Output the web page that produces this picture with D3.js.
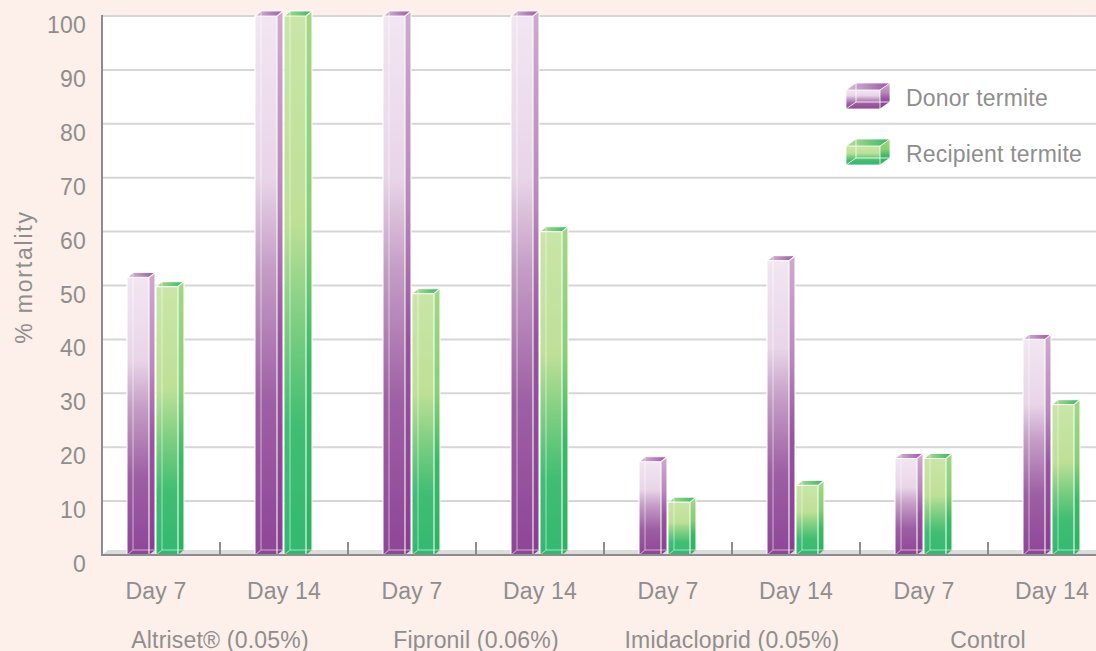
<!DOCTYPE html>
<html>
<head>
<meta charset="utf-8">
<script src="https://cdn.jsdelivr.net/npm/d3@7"></script>
<style>
  body { margin: 0; background: #fdefea; }
  svg { display: block; }
  .lbl { font-family: "Liberation Sans", Arial, sans-serif; font-size: 23px; fill: #8e8e8e; letter-spacing: 0.2px; }
</style>
</head>
<body>
<div id="chart"></div>
<script>
// chart data
var groups = ["Altriset® (0.05%)", "Fipronil (0.06%)", "Imidacloprid (0.05%)", "Control"];
var days = ["Day 7", "Day 14", "Day 7", "Day 14", "Day 7", "Day 14", "Day 7", "Day 14"];
var series = ["Donor termite", "Recipient termite"];
var donor = [51.5, 100, 100, 100, 17.3, 54.6, 17.9, 40];
var recipient = [49.8, 100, 48.5, 60, 9.8, 12.9, 17.9, 27.9];
var yTicks = [0, 10, 20, 30, 40, 50, 60, 70, 80, 90, 100];

var width = 1096, height = 651;
var plotLeft = 102, plotTop = 16, plotBottom = 555;
var dx = 6, dy = -5;   // 3d depth of the bars

var svg = d3.select("#chart").append("svg")
  .attr("width", width)
  .attr("height", height);

var defs = svg.append("defs");

function vgrad(id, stops) {
  var g = defs.append("linearGradient").attr("id", id)
    .attr("x1", 0).attr("y1", 0).attr("x2", 0).attr("y2", 1);
  stops.forEach(function(s) {
    g.append("stop").attr("offset", s[0]).attr("stop-color", s[1]);
  });
}
function hgrad(id, stops) {
  var g = defs.append("linearGradient").attr("id", id)
    .attr("x1", 0).attr("y1", 0).attr("x2", 1).attr("y2", 0);
  stops.forEach(function(s) {
    g.append("stop").attr("offset", s[0]).attr("stop-color", s[1]);
  });
}

vgrad("dFront", [[0, "#f2e6f2"], [0.3, "#e8d5e8"], [0.47, "#c49dc5"], [0.72, "#9d5fa3"], [1, "#8e4697"]]);
vgrad("dSide", [[0, "#cfa9cf"], [0.35, "#b988bb"], [0.6, "#97559e"], [1, "#873e8f"]]);
hgrad("dTop", [[0, "#d9bcd9"], [1, "#9a56a0"]]);
vgrad("rFront", [[0, "#c9e5a8"], [0.38, "#bee096"], [0.56, "#80cf83"], [0.76, "#40be73"], [1, "#32b970"]]);
vgrad("rSide", [[0, "#a3d882"], [0.4, "#86cf74"], [0.65, "#3bb967"], [1, "#2bb262"]]);
hgrad("rTop", [[0, "#b6df93"], [1, "#35b866"]]);

var fills = [
  { front: "url(#dFront)", side: "url(#dSide)", top: "url(#dTop)" },
  { front: "url(#rFront)", side: "url(#rSide)", top: "url(#rTop)" }
];

// plot background
svg.append("rect")
  .attr("x", plotLeft).attr("y", plotTop)
  .attr("width", width - plotLeft).attr("height", plotBottom - plotTop)
  .attr("fill", "#ffffff");

var x = d3.scaleBand()
  .domain(d3.range(days.length))
  .range([92, 1116]);

var x1 = d3.scaleBand()
  .domain([0, 1])
  .range([-29, 29]);

var y = d3.scaleLinear()
  .domain([0, 100])
  .range([plotBottom, plotTop]);

// gridlines + y labels
svg.append("g").selectAll("line")
  .data(yTicks.filter(function(d) { return d > 0; }))
  .enter().append("line")
  .attr("x1", plotLeft).attr("x2", width)
  .attr("y1", function(d) { return y(d); })
  .attr("y2", function(d) { return y(d); })
  .attr("stroke", "#d6d6d6")
  .attr("stroke-width", 2);

svg.append("g").selectAll("text")
  .data(yTicks)
  .enter().append("text")
  .attr("class", "lbl")
  .attr("x", 86)
  .attr("y", function(d) { return y(d) + 17; })
  .attr("text-anchor", "end")
  .text(function(d) { return d; });

// floor
svg.append("path")
  .attr("d", "M" + plotLeft + "," + plotBottom + "L" + (plotLeft + dx) + "," + (plotBottom + dy) +
    "L" + width + "," + (plotBottom + dy) + "L" + width + "," + plotBottom + "Z")
  .attr("fill", "#dcdcdc");

// bars
var barW = 22;
var rows = [];
days.forEach(function(d, i) {
  rows.push({ i: i, s: 0, v: donor[i] });
  rows.push({ i: i, s: 1, v: recipient[i] });
});

var bar = svg.append("g").selectAll("g")
  .data(rows)
  .enter().append("g")
  .attr("transform", function(d) {
    return "translate(" + (x(d.i) + x.bandwidth() / 2 + x1(d.s)) + ",0)";
  });

bar.append("path")   // side
  .attr("d", function(d) {
    var t = y(d.v);
    return "M" + barW + "," + t + "L" + (barW + dx) + "," + (t + dy) +
      "L" + (barW + dx) + "," + (plotBottom + dy) + "L" + barW + "," + plotBottom + "Z";
  })
  .attr("fill", function(d) { return fills[d.s].side; });

bar.append("path")   // top face
  .attr("d", function(d) {
    var t = y(d.v);
    return "M0," + t + "L" + dx + "," + (t + dy) + "L" + (barW + dx) + "," + (t + dy) +
      "L" + barW + "," + t + "Z";
  })
  .attr("fill", function(d) { return fills[d.s].top; });

bar.append("rect")   // front
  .attr("x", 0)
  .attr("y", function(d) { return y(d.v); })
  .attr("width", barW)
  .attr("height", function(d) { return plotBottom - y(d.v); })
  .attr("fill", function(d) { return fills[d.s].front; });

// glass edges
bar.append("path")
  .attr("d", function(d) {
    var t = y(d.v);
    return "M" + dx + "," + (t + dy) + "V" + (plotBottom + dy) + "H" + (barW + dx) +
      "M0," + plotBottom + "L" + dx + "," + (plotBottom + dy);
  })
  .attr("fill", "none")
  .attr("stroke", "#ffffff")
  .attr("stroke-opacity", 0.55)
  .attr("stroke-width", 1);

bar.append("path")
  .attr("d", function(d) {
    var t = y(d.v);
    return "M0," + t + "H" + barW + "V" + plotBottom + "H0Z" +
      "M" + barW + "," + t + "L" + (barW + dx) + "," + (t + dy) + "V" + (plotBottom + dy) +
      "M0," + t + "L" + dx + "," + (t + dy) + "H" + (barW + dx);
  })
  .attr("fill", "none")
  .attr("stroke", "#ffffff")
  .attr("stroke-opacity", 0.85)
  .attr("stroke-width", 1.2);

// axis lines
svg.append("line")
  .attr("x1", plotLeft).attr("x2", plotLeft)
  .attr("y1", plotTop - 1).attr("y2", plotBottom + 1)
  .attr("stroke", "#8c8c8c").attr("stroke-width", 2);

svg.append("line")
  .attr("x1", plotLeft).attr("x2", width)
  .attr("y1", plotBottom).attr("y2", plotBottom)
  .attr("stroke", "#8c8c8c").attr("stroke-width", 2);

svg.append("g").selectAll("line")
  .data(d3.range(1, days.length))
  .enter().append("line")
  .attr("x1", function(d) { return x(d); })
  .attr("x2", function(d) { return x(d); })
  .attr("y1", plotBottom - 13).attr("y2", plotBottom)
  .attr("stroke", "#8c8c8c").attr("stroke-width", 2);

// x labels
var xAxis = svg.append("g")
  .attr("transform", "translate(0," + plotBottom + ")")
  .call(d3.axisBottom(x).tickSize(0).tickFormat(function(i) { return days[i]; }));
xAxis.select(".domain").remove();
xAxis.attr("font-family", null).attr("font-size", null);
xAxis.selectAll("text")
  .attr("class", "lbl")
  .attr("y", 44)
  .attr("dy", null)
  .attr("fill", null);

svg.append("g").selectAll("text")
  .data(groups)
  .enter().append("text")
  .attr("class", "lbl")
  .attr("x", function(d, i) { return x(i * 2 + 1); })
  .attr("y", 648)
  .attr("text-anchor", "middle")
  .text(function(d) { return d; });

// y title
svg.append("text")
  .attr("class", "lbl")
  .attr("transform", "translate(32,277) rotate(-90)")
  .attr("text-anchor", "middle")
  .style("letter-spacing", "1.8px")
  .text("% mortality");

// legend
var legend = svg.append("g").selectAll("g")
  .data(series)
  .enter().append("g")
  .attr("transform", function(d, i) { return "translate(846," + (90 + i * 56) + ")"; });

var lw = 34, lh = 19, ldx = 10, ldy = -7;
legend.append("path")
  .attr("d", "M" + lw + ",0L" + (lw + ldx) + "," + ldy + "V" + (lh + ldy) + "L" + lw + "," + lh + "Z")
  .attr("fill", function(d, i) { return fills[i].side; });
legend.append("path")
  .attr("d", "M0,0L" + ldx + "," + ldy + "H" + (lw + ldx) + "L" + lw + ",0Z")
  .attr("fill", function(d, i) { return fills[i].top; });
legend.append("rect")
  .attr("width", lw).attr("height", lh)
  .attr("fill", function(d, i) { return fills[i].front; });
legend.append("path")
  .attr("d", "M0,0H" + lw + "V" + lh + "H0Z" +
    "M" + lw + ",0L" + (lw + ldx) + "," + ldy + "V" + (lh + ldy) + "L" + lw + "," + lh +
    "M0,0L" + ldx + "," + ldy + "H" + (lw + ldx) +
    "M" + ldx + "," + ldy + "V" + (lh + ldy) + "H" + (lw + ldx) + "M0," + lh + "L" + ldx + "," + (lh + ldy))
  .attr("fill", "none")
  .attr("stroke", "#ffffff")
  .attr("stroke-opacity", 0.8)
  .attr("stroke-width", 1);

legend.append("text")
  .attr("class", "lbl")
  .attr("x", 60)
  .attr("y", 16)
  .text(function(d) { return d; });
</script>
</body>
</html>
